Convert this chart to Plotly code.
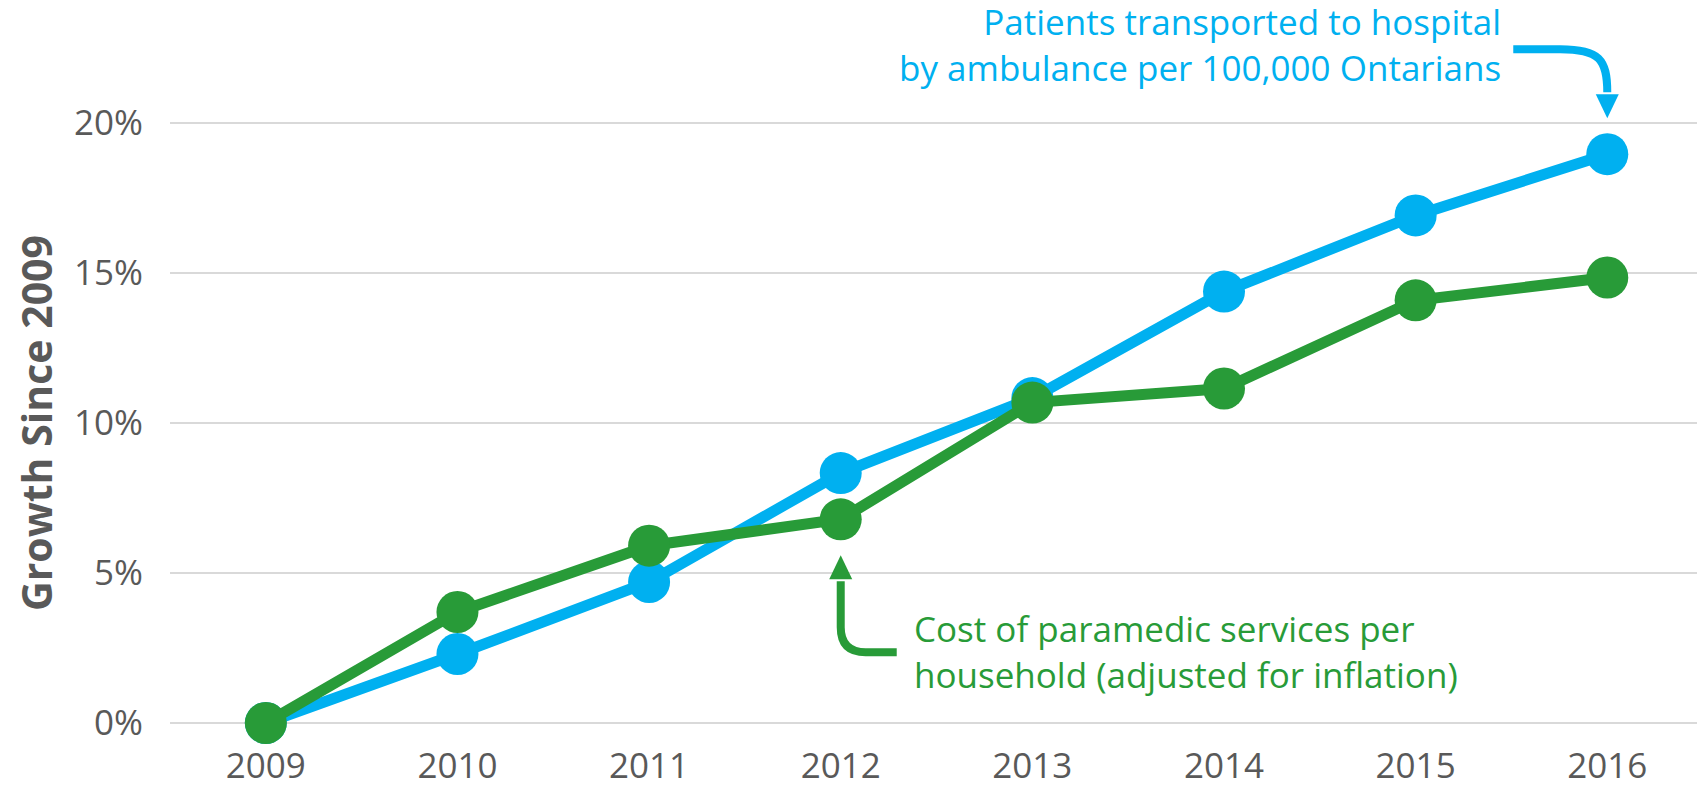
import plotly.graph_objects as go

# growth since 2009, in percent
years = [2009, 2010, 2011, 2012, 2013, 2014, 2015, 2016]
patients = [0, 2.3, 4.7, 8.33, 10.83, 14.38, 16.92, 18.96]
cost = [0, 3.7, 5.91, 6.79, 10.68, 11.15, 14.09, 14.85]
y_ticks = [0, 5, 10, 15, 20]
y_tick_labels = ["0%", "5%", "10%", "15%", "20%"]

patients_label = "Patients transported to hospital<br>by ambulance per 100,000 Ontarians"
cost_label = "Cost of paramedic services per<br>household (adjusted for inflation)"

BLUE = "#00B0F0"
GREEN = "#289B38"
GREY = "#595959"
FONT = "Open Sans"

X_RANGE = [2008.5, 2016.51]
Y_RANGE = [-0.2, 20.2]

fig = go.Figure()

fig.add_trace(go.Scatter(
    x=years, y=patients, mode="lines+markers",
    line=dict(color=BLUE, width=11),
    marker=dict(color=BLUE, size=42),
    cliponaxis=False, hoverinfo="skip",
))
fig.add_trace(go.Scatter(
    x=years, y=cost, mode="lines+markers",
    line=dict(color=GREEN, width=11),
    marker=dict(color=GREEN, size=42),
    cliponaxis=False, hoverinfo="skip",
))

# callout arrows, drawn in pixels around the data point they point at.
# paper refs so they are not clipped to the plot area
def arrow(xv, yv, curve, head, color):
    xa = (xv - X_RANGE[0]) / (X_RANGE[1] - X_RANGE[0])
    ya = (yv - Y_RANGE[0]) / (Y_RANGE[1] - Y_RANGE[0])
    fig.add_shape(type="path", xref="paper", yref="paper", xsizemode="pixel", ysizemode="pixel",
                  xanchor=xa, yanchor=ya, path=curve,
                  line=dict(color=color, width=8), fillcolor="rgba(0,0,0,0)")
    fig.add_shape(type="path", xref="paper", yref="paper", xsizemode="pixel", ysizemode="pixel",
                  xanchor=xa, yanchor=ya, path=head,
                  line=dict(width=0), fillcolor=color)

arrow(years[-1], patients[-1], "M -94,105 L -47,105 C -8,105 0,95 0,62",
      "M -11.5,60 L 11.5,60 L 0,36 Z", BLUE)
arrow(years[3], cost[3], "M 56,-133 L 25,-133 Q 0,-133 0,-108 L 0,-62",
      "M -11.5,-60 L 11.5,-60 L 0,-36 Z", GREEN)

fig.add_annotation(x=years[-1], y=patients[-1], xref="x", yref="y",
                   text=patients_label, showarrow=False, align="right",
                   xanchor="right", yanchor="middle", xshift=-104, yshift=110,
                   font=dict(family=FONT, size=35, color=BLUE))
fig.add_annotation(x=years[3], y=cost[3], xref="x", yref="y",
                   text=cost_label, showarrow=False, align="left",
                   xanchor="left", yanchor="middle", xshift=71, yshift=-132,
                   font=dict(family=FONT, size=35, color=GREEN))

# the page body has an 8px margin, so the figure is 8px smaller than the window
fig.update_layout(
    width=1697, height=778,
    margin=dict(l=162, r=0, t=109, b=57),
    plot_bgcolor="white", paper_bgcolor="white",
    showlegend=False,
    font=dict(family=FONT, color=GREY),
)
fig.update_xaxes(
    range=X_RANGE, tickvals=years, showgrid=False, zeroline=False,
    showline=False, ticklabelstandoff=13, automargin=False,
    tickfont=dict(family=FONT, size=35, color=GREY),
)
fig.update_yaxes(
    range=Y_RANGE, tickvals=y_ticks, ticktext=y_tick_labels,
    showgrid=True, gridcolor="#D9D9D9", gridwidth=2,
    zeroline=False, showline=False, ticklabelstandoff=26, automargin=False,
    tickfont=dict(family=FONT, size=35, color=GREY),
    title=dict(text="<b>Growth Since 2009</b>", standoff=27,
               font=dict(family=FONT, size=41, color=GREY)),
)

fig.write_html("out.html")
